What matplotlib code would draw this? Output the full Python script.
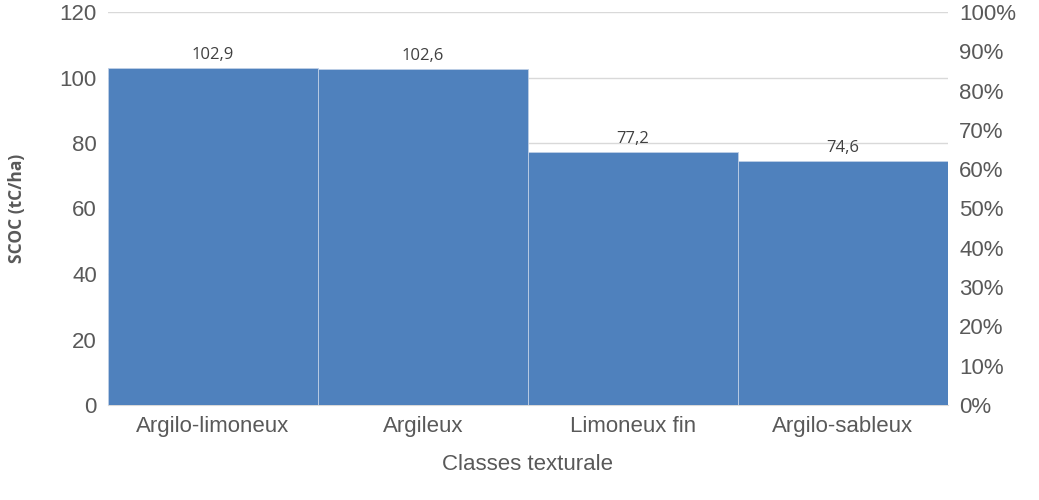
import matplotlib
matplotlib.use("Agg")
import matplotlib.pyplot as plt
import numpy as np

categories = ["Argilo-limoneux", "Argileux", "Limoneux fin", "Argilo-sableux"]
values = [102.9, 102.6, 77.2, 74.6]
labels = ["102,9", "102,6", "77,2", "74,6"]

plt.rcParams['font.family'] = ['Liberation Sans', 'DejaVu Sans']

fig = plt.figure(figsize=(10.39, 5.0), dpi=100)
ax = fig.add_axes([108/1039, 1-405/500, (948-108)/1039, (405-12)/500])
x = np.arange(len(categories))
ax.bar(x, values, width=1.0, color="#4F81BD", edgecolor="#BFCFE6", linewidth=0.6, zorder=3)
ax.set_xlim(-0.5, len(categories)-0.5)
ax.set_ylim(0, 120)
ax.set_yticks(range(0, 121, 20))
ax.yaxis.grid(True, color="#D9D9D9", linewidth=1, zorder=0)
ax.set_axisbelow(True)
for s in ["top", "left", "right"]:
    ax.spines[s].set_visible(False)
ax.spines["bottom"].set_color("#D9D9D9")
ax.tick_params(axis="both", length=0, labelsize=16, colors="#595959", pad=8)
ax.set_xticks(x)
ax.set_xticklabels(categories)
for xi, v, l in zip(x, values, labels):
    ax.text(xi, v + 1.5, l, ha="center", va="bottom", fontsize=12, color="#404040",
            family=["Open Sans", "DejaVu Sans"])
ax.set_ylabel("SCOC (tC/ha)", fontsize=12.5, fontweight="bold", color="#595959", labelpad=24,
              family=["Open Sans", "DejaVu Sans"])
ax.set_xlabel("Classes texturale", fontsize=16, color="#595959", labelpad=12)

ax2 = ax.twinx()
ax2.set_ylim(0, 1)
ax2.set_yticks(np.arange(0, 1.01, 0.1))
ax2.set_yticklabels([f"{int(round(t*100))}%" for t in np.arange(0, 1.01, 0.1)])
for s in ["top", "left", "right", "bottom"]:
    ax2.spines[s].set_visible(False)
ax2.tick_params(axis="y", length=0, labelsize=16, colors="#595959", pad=8)

fig.savefig("out.png", dpi=100)
